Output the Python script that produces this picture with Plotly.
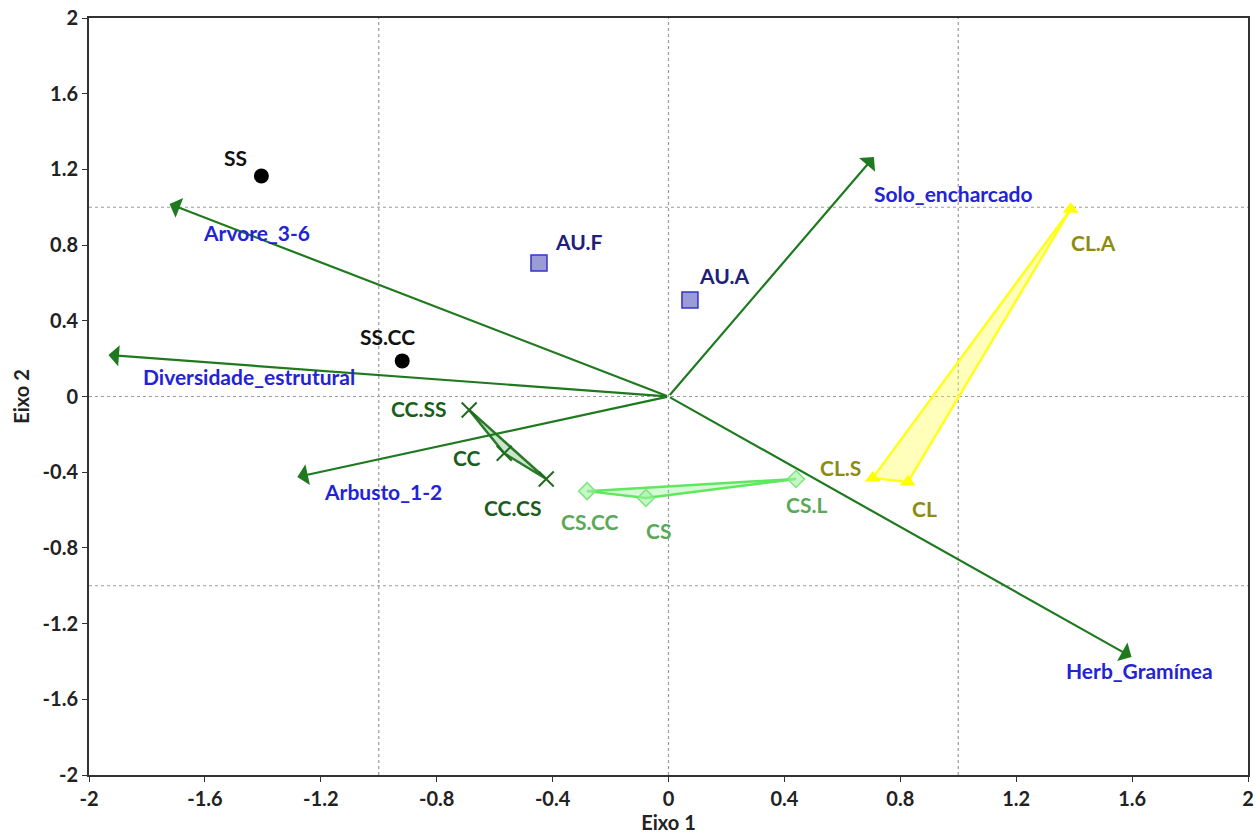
import plotly.graph_objects as go

# Sample scores on the two ordination axes
ss_names = ["SS", "SS.CC"]
ss_x = [-1.405, -0.919]
ss_y = [1.165, 0.188]

au_names = ["AU.F", "AU.A"]
au_x = [-0.447, 0.074]
au_y = [0.705, 0.51]

cc_names = ["CC.SS", "CC", "CC.CS"]
cc_x = [-0.688, -0.567, -0.422]
cc_y = [-0.071, -0.30, -0.436]

cs_names = ["CS.CC", "CS", "CS.L"]
cs_x = [-0.281, -0.078, 0.44]
cs_y = [-0.50, -0.536, -0.436]

cl_names = ["CL.S", "CL", "CL.A"]
cl_x = [0.705, 0.826, 1.388]
cl_y = [-0.43, -0.452, 0.99]

# Environmental variable vectors (biplot arrows)
var_names = ["Solo_encharcado", "Arvore_3-6", "Diversidade_estrutural", "Arbusto_1-2", "Herb_Gramínea"]
var_x = [0.709, -1.722, -1.933, -1.281, 1.598]
var_y = [1.266, 1.017, 0.219, -0.425, -1.376]

ticks = [-2, -1.6, -1.2, -0.8, -0.4, 0, 0.4, 0.8, 1.2, 1.6, 2]
tick_text = ["-2", "-1.6", "-1.2", "-0.8", "-0.4", "0", "0.4", "0.8", "1.2", "1.6", "2"]

FONT = "Lato"
ARROW = "#1f7a1f"
VAR_BLUE = "#2323d6"

fig = go.Figure()

# reference lines
for v in [-1, 0, 1]:
    fig.add_shape(type="line", x0=v, x1=v, y0=-2, y1=2, xref="x", yref="y",
                  line=dict(color="#9a9a9a", width=1.2, dash="dot"), layer="below")
    fig.add_shape(type="line", x0=-2, x1=2, y0=v, y1=v, xref="x", yref="y",
                  line=dict(color="#9a9a9a", width=1.2, dash="dot"), layer="below")


def hull(xs, ys, line_color, fill_color):
    fig.add_trace(go.Scatter(x=xs + [xs[0]], y=ys + [ys[0]], mode="lines",
                             fill="toself", fillcolor=fill_color,
                             line=dict(color=line_color, width=2.5),
                             hoverinfo="skip", showlegend=False))


hull(cl_x, cl_y, "#ffff1a", "rgba(255,255,60,0.35)")
hull(cs_x, cs_y, "#5de85d", "rgba(120,235,120,0.3)")
hull(cc_x, cc_y, "#2a7a2a", "rgba(90,170,90,0.3)")

# biplot arrows
for name, vx, vy in zip(var_names, var_x, var_y):
    fig.add_annotation(x=vx, y=vy, ax=0, ay=0, xref="x", yref="y", axref="x", ayref="y",
                       showarrow=True, arrowhead=1, arrowsize=1.6, arrowwidth=2.2,
                       arrowcolor=ARROW, text="")

var_lx = [0.984, -1.422, -1.447, -0.984, 1.626]
var_ly = [1.075, 0.869, 0.108, -0.50, -1.45]
for name, lx, ly in zip(var_names, var_lx, var_ly):
    fig.add_annotation(x=lx, y=ly, xref="x", yref="y", text=name, showarrow=False,
                       font=dict(family=FONT, size=21, color=VAR_BLUE, weight="bold"))

# sample markers
fig.add_trace(go.Scatter(x=ss_x, y=ss_y, mode="markers", showlegend=False,
                         marker=dict(symbol="circle", size=15, color="black")))
fig.add_trace(go.Scatter(x=au_x, y=au_y, mode="markers", showlegend=False,
                         marker=dict(symbol="square", size=16, color="#9b9bd9",
                                     line=dict(color="#3434c8", width=1.5))))
fig.add_trace(go.Scatter(x=cc_x, y=cc_y, mode="markers", showlegend=False,
                         marker=dict(symbol="x-thin", size=15,
                                     line=dict(color="#1f6b1f", width=2))))
fig.add_trace(go.Scatter(x=cs_x, y=cs_y, mode="markers", showlegend=False,
                         marker=dict(symbol="diamond", size=13, color="rgba(160,240,160,0.6)",
                                     line=dict(color="#7ee57e", width=1.5))))
fig.add_trace(go.Scatter(x=cl_x, y=cl_y, mode="markers", showlegend=False,
                         marker=dict(symbol="triangle-up", size=14, color="#ffff00")))

# sample labels
def labels(names, xs, ys, color):
    for n, x, y in zip(names, xs, ys):
        fig.add_annotation(x=x, y=y, xref="x", yref="y", text=n, showarrow=False,
                           font=dict(family=FONT, size=21, color=color, weight="bold"))

labels(ss_names, [-1.495, -0.97], [1.265, 0.315], "#111111")
labels(au_names, [-0.312, 0.191], [0.82, 0.637], "#20207a")
labels(cc_names, [-0.864, -0.695, -0.54], [-0.066, -0.32, -0.584], "#1b5e1b")
labels(cs_names, [-0.27, -0.036, 0.477], [-0.663, -0.71, -0.573], "#5aa85a")
labels(cl_names, [0.595, 0.884, 1.467], [-0.373, -0.594, 0.816], "#8c8c10")

axis_common = dict(range=[-2, 2], tickvals=ticks, ticktext=tick_text, showgrid=False,
                   zeroline=False, showline=True, linecolor="#333333", linewidth=2,
                   mirror=True, ticks="outside", ticklen=5, tickcolor="#333333",
                   automargin=False,
                   tickfont=dict(family=FONT, size=20, color="#222222", weight="bold"))

fig.update_xaxes(title=dict(text="Eixo 1", font=dict(family=FONT, size=20, color="#222222", weight="bold"),
                            standoff=2), **axis_common)
fig.update_yaxes(title=dict(text="Eixo 2", font=dict(family=FONT, size=20, color="#222222", weight="bold"),
                            standoff=8), **axis_common)

fig.update_layout(width=1257, height=838, plot_bgcolor="white", paper_bgcolor="white",
                  margin=dict(l=89, r=9, t=18, b=63), showlegend=False)

fig.write_html("out.html")
